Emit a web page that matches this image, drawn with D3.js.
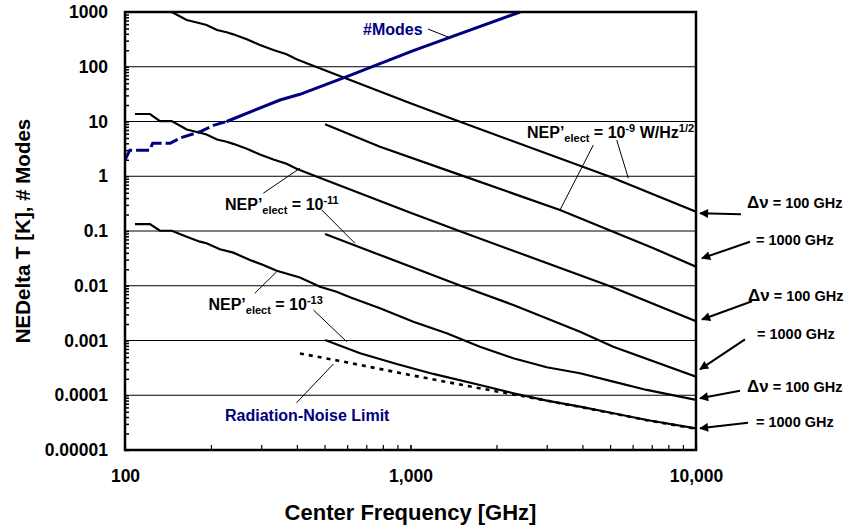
<!DOCTYPE html>
<html>
<head>
<meta charset="utf-8">
<script src="https://cdn.jsdelivr.net/npm/d3@7"></script>
<style>
  body { margin: 0; background: #fff; }
  text { font-family: "Liberation Sans", Arial, sans-serif; font-weight: bold; }
</style>
</head>
<body>
<div id="wrapper"></div>
<script>
// values, [frequency GHz, NEDelta T K] pairs
const yTickValues = [1000, 100, 10, 1, 0.1, 0.01, 0.001, 0.0001, 0.00001];
const yTickLabels = ["1000", "100", "10", "1", "0.1", "0.01", "0.001", "0.0001", "0.00001"];
const xTickValues = [100, 1000, 10000];
const xTickLabels = ["100", "1,000", "10,000"];

// # modes, dashed up to modesDashedTo
const modes = [[100, 2.0], [104, 3.0], [122, 3.0], [125, 4.0], [144, 4.0], [156, 5.0], [183, 6.5], [204, 8.5],
  [227, 10], [349, 24.7], [410, 31.4], [598, 65.8], [1023, 197], [2420, 1000]];
const modesDashedTo = 227;

// NEP'elect = 1e-9
const nep9_bw100 = [[122, 1370], [132.6, 1020], [145.8, 1000], [164.5, 714], [183, 622], [193, 578], [210, 469],
  [227, 426], [239.5, 391], [267, 317], [297, 250], [331, 202], [368, 169], [399, 137], [433, 116],
  [1000, 21.5], [1491, 9.9], [5000, 0.98], [10000, 0.225]];
const nep9_bw1000 = [[502, 8.9], [782, 3.47], [1491, 1.06], [3339, 0.242], [7065, 0.0489], [10000, 0.0223]];

// NEP'elect = 1e-11
const nep11_bw100 = [[108.4, 13.7], [122.3, 13.7], [132.6, 10.2], [145.8, 10.2], [164.5, 7.14], [183, 6.22],
  [193, 5.78], [210, 4.69], [227, 4.26], [239.5, 3.91], [267, 3.17], [297, 2.5], [331, 2.02], [368, 1.69],
  [399, 1.37], [433, 1.16], [1000, 0.215], [1491, 0.099], [5000, 0.0098], [10000, 0.00225]];
const nep11_bw1000 = [[502, 0.0881], [782, 0.0365], [1491, 0.0101], [2292, 0.00445], [3925, 0.00145],
  [5132, 0.00077], [10000, 0.000218]];

// NEP'elect = 1e-13
const nep13_bw100 = [[108.4, 0.134], [122.3, 0.134], [132.6, 0.101], [145.8, 0.101], [164.5, 0.0787],
  [183, 0.0638], [193, 0.0596], [215, 0.0463], [239.5, 0.0402], [274, 0.0295], [305, 0.0239], [340, 0.0188],
  [410, 0.01416], [482, 0.00961], [551, 0.00778], [614, 0.00615], [782, 0.00387], [1023, 0.0022],
  [1339, 0.00136], [1751, 0.00077], [2292, 0.000473], [3000, 0.000324], [3925, 0.000252], [5132, 0.000177],
  [6721, 0.000125], [10000, 0.000082]];
const nep13_bw1000 = [[502, 0.00102], [666, 0.000584], [895, 0.000372], [1202, 0.000245], [1751, 0.000154],
  [2292, 0.000109], [3000, 0.0000796], [3925, 0.0000618], [5132, 0.0000469], [6721, 0.0000353],
  [10000, 0.0000249]];

// radiation-noise limit (dotted)
const radLimit = [[410, 0.00058], [559, 0.000428], [1000, 0.000234], [1751, 0.000134], [2847, 0.000084],
  [3925, 0.000061], [5132, 0.0000465], [6721, 0.000035], [10000, 0.0000245]];

function drawChart() {
  const dimensions = {
    width: 847,
    height: 531,
    margin: { top: 12, right: 151, bottom: 81, left: 125 },
  };
  dimensions.boundedWidth = dimensions.width - dimensions.margin.left - dimensions.margin.right;
  dimensions.boundedHeight = dimensions.height - dimensions.margin.top - dimensions.margin.bottom;

  const svg = d3.select("#wrapper").append("svg")
    .attr("width", dimensions.width)
    .attr("height", dimensions.height);

  const bounds = svg.append("g")
    .attr("transform", `translate(${dimensions.margin.left},${dimensions.margin.top})`);

  const xScale = d3.scaleLog().domain([100, 10000]).range([0, dimensions.boundedWidth]);
  const yScale = d3.scaleLog().domain([0.00001, 1000]).range([dimensions.boundedHeight, 0]);

  svg.append("defs").append("clipPath").attr("id", "plotclip")
    .append("rect").attr("width", dimensions.boundedWidth).attr("height", dimensions.boundedHeight);

  // gridlines
  bounds.append("g").selectAll("line")
    .data(yTickValues.slice(1, -1))
    .join("line")
      .attr("x1", 0).attr("x2", dimensions.boundedWidth)
      .attr("y1", d => yScale(d)).attr("y2", d => yScale(d))
      .attr("stroke", "#000").attr("stroke-width", 1);

  // minor ticks (inside)
  const minorY = [];
  yTickValues.slice(1).forEach(d => { for (let k = 1; k < 10; k++) minorY.push(d * k); });
  bounds.append("g")
    .call(d3.axisRight(yScale).tickValues(minorY).tickSize(4).tickFormat(""))
    .call(g => g.select(".domain").remove())
    .selectAll("line").attr("stroke-width", 1.5);

  const minorX = [];
  [100, 1000].forEach(d => { for (let k = 1; k <= 10; k++) minorX.push(d * k); });
  bounds.append("g")
    .attr("transform", `translate(0,${dimensions.boundedHeight})`)
    .call(d3.axisTop(xScale).tickValues(minorX).tickSize(5).tickFormat(""))
    .call(g => g.select(".domain").remove())
    .selectAll("line").attr("stroke-width", 1.2);

  // tick labels
  bounds.append("g")
    .call(d3.axisLeft(yScale).tickValues(yTickValues).tickSize(0).tickPadding(17)
      .tickFormat((d, i) => yTickLabels[i]))
    .call(g => g.select(".domain").remove())
    .selectAll("text")
      .attr("font-size", 17.5).attr("font-family", "Liberation Sans, Arial, sans-serif")
      .attr("font-weight", "bold").attr("fill", "#000");

  bounds.append("g")
    .attr("transform", `translate(0,${dimensions.boundedHeight})`)
    .call(d3.axisBottom(xScale).tickValues(xTickValues).tickSize(0).tickPadding(20)
      .tickFormat((d, i) => xTickLabels[i]))
    .call(g => g.select(".domain").remove())
    .selectAll("text")
      .attr("font-size", 17.5).attr("font-family", "Liberation Sans, Arial, sans-serif")
      .attr("font-weight", "bold").attr("fill", "#000");

  // curves
  const lineGenerator = d3.line()
    .x(d => xScale(d[0]))
    .y(d => yScale(d[1]));

  const plot = bounds.append("g").attr("clip-path", "url(#plotclip)");

  [nep9_bw100, nep9_bw1000, nep11_bw100, nep11_bw1000, nep13_bw100, nep13_bw1000].forEach(series => {
    plot.append("path")
      .attr("d", lineGenerator(series))
      .attr("fill", "none").attr("stroke", "#000").attr("stroke-width", 2.2);
  });

  plot.append("path")
    .attr("d", lineGenerator(radLimit))
    .attr("fill", "none").attr("stroke", "#000").attr("stroke-width", 2.6)
    .attr("stroke-dasharray", "4,5");

  plot.append("path")
    .attr("d", lineGenerator(modes.filter(d => d[0] <= modesDashedTo)))
    .attr("fill", "none").attr("stroke", "#000080").attr("stroke-width", 3)
    .attr("stroke-dasharray", "13,4");
  plot.append("path")
    .attr("d", lineGenerator(modes.filter(d => d[0] >= modesDashedTo)))
    .attr("fill", "none").attr("stroke", "#000080").attr("stroke-width", 3);

  // frame
  bounds.append("rect")
    .attr("width", dimensions.boundedWidth).attr("height", dimensions.boundedHeight)
    .attr("fill", "none").attr("stroke", "#000").attr("stroke-width", 2.5);

  // axis titles
  svg.append("text")
    .attr("x", dimensions.margin.left + xScale(1000)).attr("y", 520)
    .attr("text-anchor", "middle").attr("font-size", 22)
    .text("Center Frequency [GHz]");
  svg.append("text")
    .attr("transform", `translate(30,${dimensions.margin.top + dimensions.boundedHeight / 2}) rotate(-90)`)
    .attr("text-anchor", "middle").attr("font-size", 20.5)
    .text("NEDelta T [K], # Modes");

  // labels inside the plot, anchored in data units
  const leader = (a, b, w) => bounds.append("line")
    .attr("x1", xScale(a[0])).attr("y1", yScale(a[1]))
    .attr("x2", xScale(b[0])).attr("y2", yScale(b[1]))
    .attr("stroke", "#000").attr("stroke-width", w || 1);

  function nepLabel(pos, exp, unit) {
    const t = bounds.append("text")
      .attr("x", xScale(pos[0])).attr("y", yScale(pos[1]))
      .attr("font-size", 16).attr("fill", "#000");
    t.append("tspan").text("NEP’");
    t.append("tspan").attr("font-size", 11).attr("dy", 4).text("elect");
    t.append("tspan").attr("dy", -4).text(" = 10");
    t.append("tspan").attr("font-size", 11).attr("dy", -6).text(exp);
    if (unit) {
      t.append("tspan").attr("dy", 6).text(" W/Hz");
      t.append("tspan").attr("font-size", 11).attr("dy", -6).text("1/2");
    }
  }

  nepLabel([2559, 5.0], "-9", true);
  leader([4369, 3.72], [3339, 0.242]);
  leader([5276, 4.59], [5795, 0.918]);

  nepLabel([224, 0.237], "-11", false);
  leader([305, 0.489], [410, 1.40]);
  leader([489, 0.242], [639, 0.0596]);

  nepLabel([196, 0.00361], "-13", false);
  leader([285, 0.00728], [340, 0.0181]);
  leader([457, 0.00361], [598, 0.000951]);

  bounds.append("text")
    .attr("x", xScale(224)).attr("y", yScale(0.0000343))
    .attr("font-size", 16).attr("fill", "#000080")
    .text("Radiation-Noise Limit");
  leader([399, 0.0000731], [537, 0.000372]);

  bounds.append("text")
    .attr("x", xScale(682)).attr("y", yScale(380))
    .attr("font-size", 16).attr("fill", "#000080")
    .text("#Modes");
  leader([1151, 489], [1353, 349]);

  // bandwidth notes right of the plot, pointing at the curve ends
  const notes = [
    { end: nep9_bw100, delta: true, head: [4, 1.6], tail: [45, 2.6], text: [51, -3.4] },
    { end: nep9_bw1000, delta: false, head: [6, -8.4], tail: [54, -25], text: [60, -21.7] },
    { end: nep11_bw100, delta: true, head: [6, -1.7], tail: [56, -20], text: [52, -20] },
    { end: nep11_bw1000, delta: false, head: [4, -7.4], tail: [49, -37.4], text: [61, -37.4] },
    { end: nep13_bw100, delta: true, head: [4, -1.7], tail: [44, -9.3], text: [51, -8.3] },
    { end: nep13_bw1000, delta: false, head: [4, 0], tail: [52, -5.6], text: [60, -1.6] },
  ];

  const defs = svg.select("defs");
  defs.append("marker").attr("id", "arrow")
    .attr("viewBox", "0 0 10 10").attr("refX", 9).attr("refY", 5)
    .attr("markerWidth", 6).attr("markerHeight", 4.5).attr("markerUnits", "strokeWidth")
    .attr("orient", "auto")
    .append("path").attr("d", "M0,0L10,5L0,10z").attr("fill", "#000");

  notes.forEach(n => {
    const last = n.end[n.end.length - 1];
    const ax = xScale(last[0]), ay = yScale(last[1]);
    bounds.append("line")
      .attr("x1", ax + n.tail[0]).attr("y1", ay + n.tail[1])
      .attr("x2", ax + n.head[0]).attr("y2", ay + n.head[1])
      .attr("stroke", "#000").attr("stroke-width", 2)
      .attr("marker-end", "url(#arrow)");
    const t = bounds.append("text")
      .attr("x", ax + n.text[0]).attr("y", ay + n.text[1])
      .attr("font-size", 14.5).attr("fill", "#000");
    if (n.delta) {
      t.append("tspan").attr("font-size", 17).text("Δν");
      t.append("tspan").text(" = 100 GHz");
    } else {
      t.append("tspan").text("= 1000 GHz");
    }
  });
}

drawChart();
</script>
</body>
</html>
